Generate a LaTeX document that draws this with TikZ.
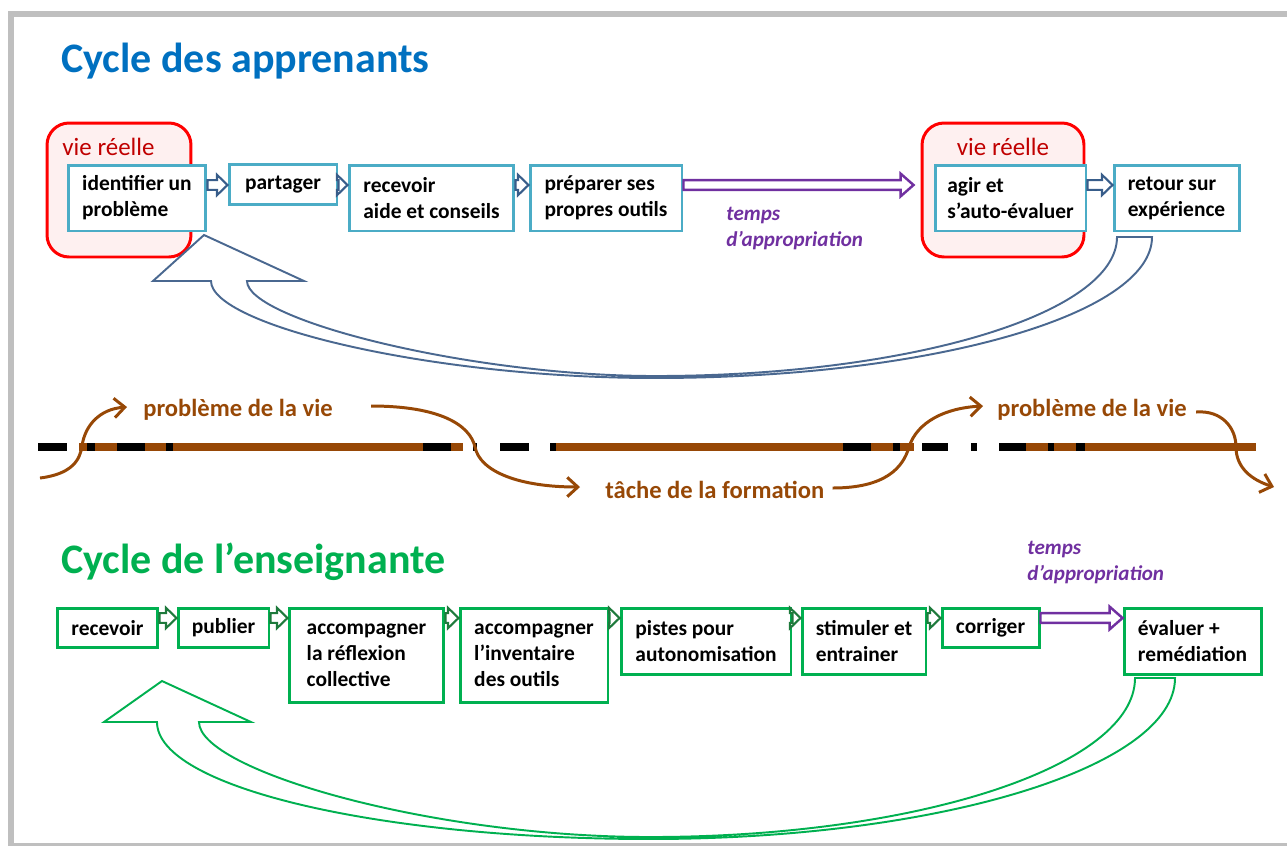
\documentclass[tikz,border=0pt]{standalone}
\usepackage{fontspec}
\setmainfont{Carlito}
\usetikzlibrary{calc,arrows.meta}

\definecolor{titleblue}{HTML}{0070C0}
\definecolor{titlegreen}{HTML}{00B050}
\definecolor{boxblue}{HTML}{4BACC6}
\definecolor{lifered}{HTML}{FF0000}
\definecolor{lifetext}{HTML}{C00000}
\definecolor{lifefill}{HTML}{FEF0F0}
\definecolor{arrblue}{HTML}{385D8A}
\definecolor{curveblue}{HTML}{4A6890}
\definecolor{apppurple}{HTML}{7030A0}
\definecolor{arrgreen}{HTML}{1E7A3C}
\definecolor{taskbrown}{HTML}{974806}
\definecolor{framegray}{HTML}{BFBFBF}

\newcommand\boxtxt{\bfseries\fontsize{12.2}{14.8}\selectfont}

\tikzset{
  blockarr/.style n args={3}{to path={let \p1=(\tikztostart), \p2=(\tikztotarget) in
    (\x1,\y1-#1) -- (\x2-#3,\y1-#1) -- (\x2-#3,\y1-#2) -- (\x2,\y1)
    -- (\x2-#3,\y1+#2) -- (\x2-#3,\y1+#1) -- (\x1,\y1+#1) -- cycle}},
  smallarr/.style={blockarr={2.8pt}{5.8pt}{6pt}, draw=arrblue, fill=white, line width=1.2pt, line join=miter},
  greenarr/.style={smallarr, draw=arrgreen},
  timearr/.style={blockarr={2.8pt}{6.5pt}{7.4pt}, draw=apppurple, fill=white, line width=1.4pt, line join=miter},
  apbox/.style={draw=boxblue, line width=1.7pt, fill=white, align=left, inner sep=0pt, font=\boxtxt},
  ensbox/.style={apbox, draw=titlegreen},
  lifebox/.style={draw=lifered, line width=1.7pt, fill=lifefill, rounded corners=0.44cm, inner sep=0pt},
  onel/.style={minimum height=0.79cm},
  twol/.style={minimum height=1.32cm},
  threel/.style={minimum height=1.88cm},
  apptext/.style={text=apppurple, align=left, inner sep=0pt, font=\bfseries\itshape\fontsize{12}{14.8}\selectfont},
  lifetxt/.style={text=taskbrown, inner sep=0pt, font=\bfseries\fontsize{14}{16}\selectfont},
  lifearr/.style={draw=taskbrown, line width=1.7pt, -{Straight Barb[length=6pt,width=11pt]}},
  cyclearr/.style={draw=curveblue, fill=white, line width=1.1pt, line join=miter},
  dashblack/.style={line width=4pt, black},
  dashbrown/.style={line width=4pt, taskbrown}
}

\begin{document}
\begin{tikzpicture}[x=0.02cm, y=-0.02cm]
  \useasboundingbox (0,0) rectangle (1287,846);

  % frame
  \fill[framegray] (8,11) rectangle (1287,17);
  \fill[framegray] (8,11) rectangle (14,846);
  \fill[framegray] (8,843) rectangle (1287,846);

  % titles
  \node[anchor=base west, inner sep=0pt, text=titleblue, font=\bfseries\fontsize{23.9}{28}\selectfont] (titleap) at (61,72) {Cycle des apprenants};
  \node[anchor=base west, inner sep=0pt, text=titlegreen, font=\bfseries\fontsize{23.9}{28}\selectfont] (titleens) at (61,573) {Cycle de l’enseignante};

  % vie reelle
  \node[lifebox, minimum width=2.88cm, minimum height=2.68cm] (r1) at (119,190) {};
  \node[lifebox, minimum width=3.24cm, minimum height=2.68cm] (r2) at (1003,190) {};
  \node[text=lifetext, font=\fontsize{14.2}{16}\selectfont, inner sep=0pt] (vr1) at (108.5,147) {vie réelle};
  \node[text=lifetext, font=\fontsize{14.2}{16}\selectfont, inner sep=0pt] (vr2) at (1003,147) {vie réelle};

  % cycle des apprenants
  \coordinate (row1) at (0,185);
  \node[apbox, twol, minimum width=2.76cm] (b1) at (137,198) {identifier un\\problème};
  \node[apbox, onel, minimum width=2.16cm] (b2) at (283,184.5) {partager};
  \node[apbox, twol, minimum width=3.30cm] (b3) at (431.5,198) {recevoir\\aide et conseils};
  \node[apbox, twol, minimum width=3.04cm] (b4) at (606,198) {préparer ses\\propres outils};
  \node[apbox, twol, minimum width=3.02cm] (b5) at (1010.5,198) {agir et\\s’auto-évaluer};
  \node[apbox, twol, minimum width=2.50cm] (b6) at (1176.5,198) {retour sur\\expérience};

  \draw[smallarr] (b1.east |- row1) to (b2.west |- row1);
  \draw[smallarr] (b2.east |- row1) to (b3.west |- row1);
  \draw[smallarr] (b3.east |- row1) to (b4.west |- row1);
  \draw[timearr] (b4.east |- row1) to ($(r2.west |- row1)+(-7,0)$);
  \draw[smallarr] (b5.east |- row1) to (b6.west |- row1);
  \node[apptext, anchor=west] (temps1) at (726,228) {temps\\d’appropriation};

  % retour (apprenants)
  \draw[cyclearr] (1117,237) -- (1152,237) .. controls (1152,315) and (930,378) .. (655,378)
    .. controls (430,378) and (211,325) .. (211,281) -- (153,281) -- (204,235) -- (304,281) -- (247,281)
    .. controls (247,320) and (470,376) .. (655,376) .. controls (909,376) and (1117,314) .. (1117,237) -- cycle;

  % ligne de temps
  \foreach \a/\b in {38/67, 87/95, 117/145, 166/173, 423/451, 473/477, 500/529, 550/556,
                     843/871, 893/900, 922/948, 971/977, 999/1026, 1048/1054, 1076/1085}
    \draw[dashblack] (\a,447) -- (\b,447);
  \foreach \a/\b in {79/87, 95/117, 145/166, 173/423, 451/463, 556/843, 871/893, 900/914,
                     1026/1048, 1054/1076, 1085/1256}
    \draw[dashbrown] (\a,447) -- (\b,447);

  \node[lifetxt, anchor=west] (pv1) at (143,410) {problème de la vie};
  \node[lifetxt, anchor=west] (tf) at (605,490) {tâche de la formation};
  \node[lifetxt, anchor=west] (pv2) at (997,410) {problème de la vie};

  \coordinate (startvie) at (40,478);
  \coordinate (cross1) at (82,446);
  \coordinate (cross2) at (475,447);
  \coordinate (cross3) at (909,447);
  \coordinate (cross4) at (1236,447);
  \coordinate (endvie) at (1274,487);

  \draw[lifearr] (startvie) .. controls (72,474) and (80,460) .. (cross1)
    .. controls (85,425) and (100,409) .. ($(pv1.west)+(-16,-3)$);
  \draw[lifearr] ($(pv1.east)+(38,-4)$) .. controls (440,406) and (470,425) .. (cross2)
    .. controls (480,472) and (520,487) .. ($(tf.west)+(-25,-3)$);
  \draw[lifearr] ($(tf.east)+(8,-2)$) .. controls (885,488) and (903,468) .. (cross3)
    .. controls (917,422) and (945,408) .. ($(pv2.west)+(-14,-4)$);
  \draw[lifearr] ($(pv2.east)+(9,2)$) .. controls (1222,410) and (1236,428) .. (cross4)
    .. controls (1236,468) and (1252,480) .. (endvie);

  % cycle de l'enseignante
  \coordinate (row2) at (0,618);
  \node[ensbox, onel, minimum width=2.02cm] (g1) at (107.5,628) {recevoir};
  \node[ensbox, onel, minimum width=1.82cm] (g2) at (223.5,628) {publier};
  \node[ensbox, threel, minimum width=3.10cm] (g3) at (366.5,655) {accompagner\\la réflexion\\collective};
  \node[ensbox, threel, minimum width=2.96cm] (g4) at (534,655) {accompagner\\l’inventaire\\des outils};
  \node[ensbox, twol, minimum width=3.40cm] (g5) at (706,641) {pistes pour\\autonomisation};
  \node[ensbox, twol, minimum width=2.48cm] (g6) at (864,641) {stimuler et\\entrainer};
  \node[ensbox, onel, minimum width=1.94cm] (g7) at (990.5,628) {corriger};
  \node[ensbox, twol, minimum width=2.74cm] (g8) at (1192.5,641) {évaluer +\\remédiation};

  \draw[greenarr] (g1.east |- row2) to (g2.west |- row2);
  \draw[greenarr] (g2.east |- row2) to (g3.west |- row2);
  \draw[greenarr] (g3.east |- row2) to (g4.west |- row2);
  \draw[greenarr] (g4.east |- row2) to (g5.west |- row2);
  \draw[greenarr] (g5.east |- row2) to (g6.west |- row2);
  \draw[greenarr] (g6.east |- row2) to (g7.west |- row2);
  \draw[timearr] (g7.east |- row2) to (g8.west |- row2);
  \node[apptext, anchor=west] (temps2) at (1027,562) {temps\\d’appropriation};

  % retour (enseignante)
  \draw[cyclearr, draw=titlegreen] (1135,678) -- (1175,678) .. controls (1175,767) and (940,839) .. (650,839)
    .. controls (378,839) and (157,787) .. (157,722) -- (104,722) -- (162,681) -- (251,722) -- (199,722)
    .. controls (199,770) and (430,837) .. (650,837) .. controls (918,837) and (1135,766) .. (1135,678) -- cycle;
\end{tikzpicture}
\end{document}
